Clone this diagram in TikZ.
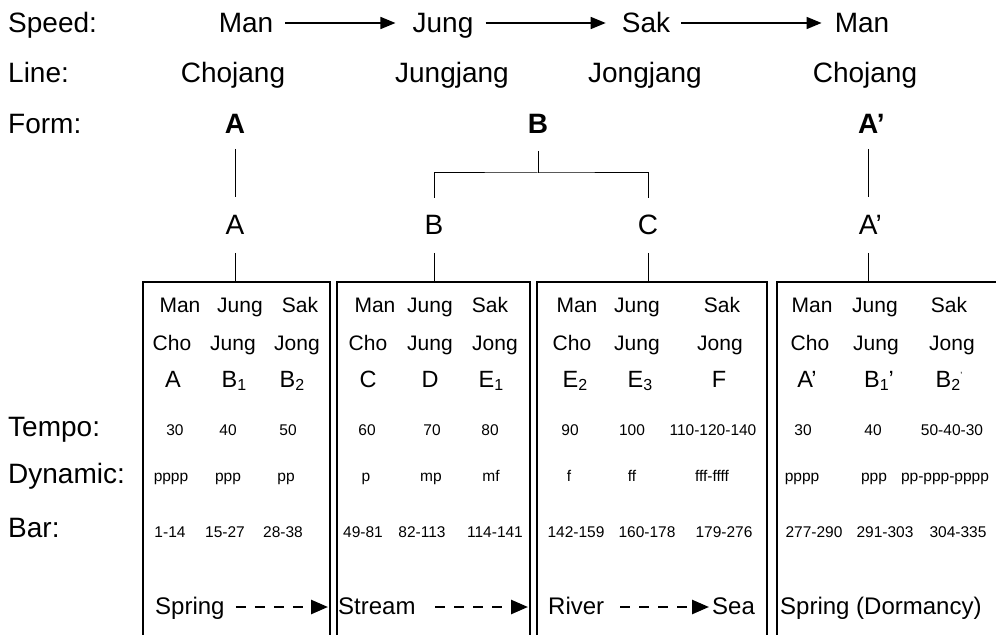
\documentclass[tikz,border=0pt]{standalone}
\usepackage{fontspec}
\setmainfont{Liberation Sans}
\usetikzlibrary{arrows.meta,calc}
\newcommand\lowsub[1]{\raisebox{-3bp}{\fontsize{16bp}{16bp}\selectfont #1}}
\begin{document}
\begin{tikzpicture}[x=1bp,y=-1bp,
 bigtxt/.style={font=\fontsize{28bp}{32bp}\selectfont,inner sep=0pt,anchor=base},
 lbltxt/.style={bigtxt,anchor=base west},
 boldtxt/.style={font=\fontsize{28bp}{32bp}\selectfont\bfseries,inner sep=0pt,anchor=base},
 celltxt/.style={font=\fontsize{21bp}{24bp}\selectfont,inner sep=0pt,anchor=base},
 lettxt/.style={font=\fontsize{23.5bp}{26bp}\selectfont,inner sep=0pt,anchor=base},
 smtxt/.style={font=\fontsize{15.5bp}{18bp}\selectfont,inner sep=0pt,anchor=base},
 bottxt/.style={font=\fontsize{24bp}{28bp}\selectfont,inner sep=0pt,anchor=base west},
 treeline/.style={line width=1bp},
 boxline/.style={line width=1.3bp},
 sarrow/.style={line width=1.6bp,-{Triangle[length=15bp,width=12bp]}},
 darrow/.style={line width=2.6bp,dash pattern=on 10bp off 9bp,-{Triangle[length=17bp,width=14bp]}},
]
\useasboundingbox (0,0) rectangle (996,635);
\fill[white] (0,0) rectangle (996,635);

% left labels
\node[lbltxt] (lspeed) at (8,33) {Speed:};
\node[lbltxt] (lline) at (8,83) {Line:};
\node[lbltxt] (lform) at (8,134) {Form:};
\node[lbltxt] (ltempo) at (8,436) {Tempo:};
\node[lbltxt] (ldyn) at (8,483) {Dynamic:};
\node[lbltxt] (lbar) at (8,537) {Bar:};

% speed row
\node[bigtxt] (s1) at (246,33) {Man};
\node[bigtxt] (s2) at (443,33) {Jung};
\node[bigtxt] (s3) at (646,33) {Sak};
\node[bigtxt] (s4) at (862,33) {Man};
\draw[sarrow] ($(s1.base east)+(12,-10)$) -- ($(s2.base west)+(-17,-10)$);
\draw[sarrow] ($(s2.base east)+(12,-10)$) -- ($(s3.base west)+(-16,-10)$);
\draw[sarrow] ($(s3.base east)+(11,-10)$) -- ($(s4.base west)+(-13,-10)$);

% line row
\node[bigtxt] (l1) at (233,83) {Chojang};
\node[bigtxt] (l2) at (452,83) {Jungjang};
\node[bigtxt] (l3) at (645,83) {Jongjang};
\node[bigtxt] (l4) at (865,83) {Chojang};

% form row
\node[boldtxt] (fA) at (235,134) {A};
\node[boldtxt] (fB) at (538,134) {B};
\node[boldtxt,anchor=base west] (fA2) at (858,134) {A’};

% middle letters
\node[bigtxt] (mA) at (235,235) {A};
\node[bigtxt] (mB) at (434,235) {B};
\node[bigtxt] (mC) at (648,235) {C};
\node[bigtxt,anchor=base west] (mA2) at (858.7,235) {A’};

% tree connectors
\coordinate (jA1) at (235,149); \coordinate (jA2) at (235,197);
\coordinate (jB0) at (538,151); \coordinate (jB) at (538,173);
\coordinate (jBl) at (434,198); \coordinate (jBr) at (648,198);
\coordinate (jD1) at (868,149); \coordinate (jD2) at (868,197);
\draw[treeline] (jA1) -- (jA2);
\draw[treeline] (jB0) -- (jB);
\draw[treeline] (jBl) |- (jB) -| (jBr);
\draw[treeline] (jD1) -- (jD2);

\coordinate (t1) at (235,282); \coordinate (t2) at (434,282);
\coordinate (t3) at (648,282); \coordinate (t4) at (868,282);
\draw[treeline] ($(t1)+(0,-29)$) -- (t1);
\draw[treeline] ($(t2)+(0,-29)$) -- (t2);
\draw[treeline] ($(t3)+(0,-29)$) -- (t3);
\draw[treeline] ($(t4)+(0,-29)$) -- (t4);

% boxes
\draw[boxline] (143,636) -- (143,282) -- (330,282) -- (330,636);
\draw[boxline] (337,636) -- (337,282) -- (530,282) -- (530,636);
\draw[boxline] (537,636) -- (537,282) -- (767,282) -- (767,636);
\draw[boxline] (777,636) -- (777,282) -- (997,282);

% rows inside boxes
\foreach \x/\t [count=\i] in {180/Man,240/Jung,300/Sak,375/Man,430/Jung,490/Sak,577/Man,637/Jung,722/Sak,812/Man,875/Jung,949/Sak}
  \node[celltxt] (ra\i) at (\x,312) {\t};
\foreach \x/\t [count=\i] in {172/Cho,233/Jung,297/Jong,368/Cho,430/Jung,495/Jong,572/Cho,637/Jung,720/Jong,810/Cho,876/Jung,952/Jong}
  \node[celltxt] (rb\i) at (\x,350) {\t};
\foreach \x/\t [count=\i] in {173/A,234/{B\lowsub{1}},292/{B\lowsub{2}},368/C,430/D,491/{E\lowsub{1}},575/{E\lowsub{2}},640/{E\lowsub{3}},719/F,807/{A’},879/{B\lowsub{1}’},949/{B\lowsub{2}\raisebox{9bp}{\fontsize{9bp}{9bp}\selectfont ’}}}
  \node[lettxt] (rc\i) at (\x,387) {\t};
\foreach \x/\t [count=\i] in {175/30,228/40,288/50,367/60,432/70,490/80,570/90,632/100,713/110-120-140,803/30,873/40,952/50-40-30}
  \node[smtxt] (rd\i) at (\x,435) {\t};
\foreach \x/\t [count=\i] in {171/pppp,228/ppp,286/pp,366/p,431/mp,491/mf,569/f,632/ff,712/fff-ffff,802/pppp,874/ppp,945/pp-ppp-pppp}
  \node[smtxt] (re\i) at (\x,481) {\t};
\foreach \x/\t [count=\i] in {170/1-14,225/15-27,283/28-38,363/49-81,422/82-113,495/114-141,576/142-159,647/160-178,724/179-276,814/277-290,885/291-303,958/304-335}
  \node[smtxt] (rf\i) at (\x,537) {\t};

% bottom row
\node[bottxt] (spring) at (155,614) {Spring};
\node[bottxt] (stream) at (338,614) {Stream};
\node[bottxt] (river) at (548,614) {River};
\node[bottxt] (sea) at (712,614) {Sea};
\node[bottxt] (dorm) at (780,614) {Spring (Dormancy)};
\coordinate (e1) at (328,607);
\coordinate (e2) at (528,607);
\draw[darrow] (spring.base east |- e1) ++(11,0) -- (e1);
\draw[darrow] (435,607) -- (e2);
\draw[darrow] ($(river.base east)+(16,-7)$) -- ($(sea.base west)+(-3,-7)$);
\end{tikzpicture}
\end{document}
